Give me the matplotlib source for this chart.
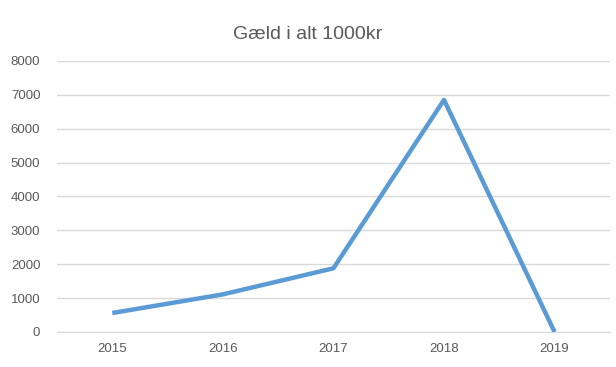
import matplotlib
matplotlib.use("Agg")
import matplotlib.pyplot as plt

years = ["2015", "2016", "2017", "2018", "2019"]
debt = [560, 1110, 1880, 6850, 0]
y_ticks = [0, 1000, 2000, 3000, 4000, 5000, 6000, 7000, 8000]

plt.rcParams['font.family'] = ['Liberation Sans', 'DejaVu Sans']

fig = plt.figure(figsize=(6.16, 3.67), dpi=100)
ax = fig.add_axes([0.0925, 0.0954, 0.8975, 0.7386])

x = list(range(len(years)))
ax.plot(x, debt, color='#5B9BD5', linewidth=3.2, solid_capstyle='butt', zorder=3)

ax.set_xlim(-0.5, len(years) - 0.5)
ax.set_ylim(0, 8000)
ax.set_yticks(y_ticks)
ax.set_yticklabels([str(t) for t in y_ticks])
ax.set_xticks(x)
ax.set_xticklabels(years)

ax.grid(axis='y', color='#D9D9D9', linewidth=1)
ax.set_axisbelow(True)
for side in ['top', 'right', 'left']:
    ax.spines[side].set_visible(False)
ax.spines['bottom'].set_color('#D9D9D9')
ax.tick_params(axis='both', length=0, labelsize=9.5, colors='#595959', pad=8)
ax.tick_params(axis='y', pad=12)

fig.text(0.5, 0.905, "Gæld i alt 1000kr", ha='center', va='center',
         fontsize=14, color='#595959')

fig.savefig("out.png", dpi=100)
